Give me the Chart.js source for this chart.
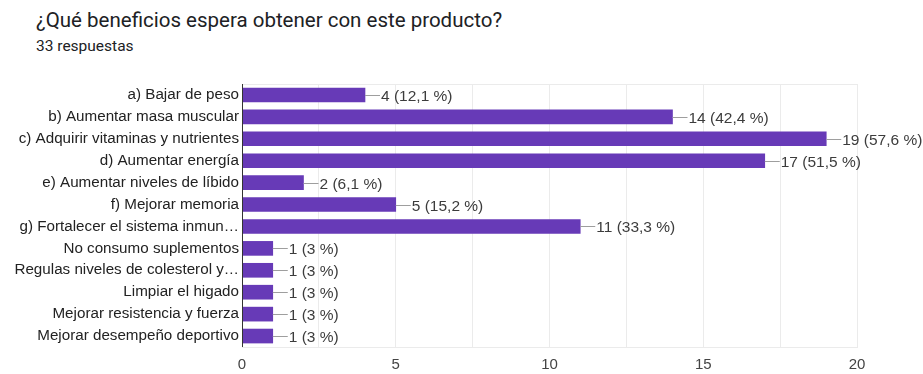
<!DOCTYPE html>
<html>
<head>
<meta charset="utf-8">
<script src="https://cdn.jsdelivr.net/npm/chart.js@4"></script>
<style>
  body { margin: 0; background: #fff; }
  #wrap { position: relative; width: 923px; height: 374px; }
  #title { position: absolute; left: 36px; top: 8px; font: 20.5px Roboto, sans-serif; color: #202124; white-space: nowrap; }
  #count { position: absolute; left: 36px; top: 37px; font: 15.5px Roboto, sans-serif; color: #202124; }
  canvas { position: absolute; left: 0; top: 0; }
</style>
</head>
<body>
<div id="wrap">
  <div id="title">¿Qué beneficios espera obtener con este producto?</div>
  <div id="count">33 respuestas</div>
  <canvas id="benefits-chart" width="923" height="374"></canvas>
</div>
<script>
const TOTAL = 33;

const categories = [
  "a) Bajar de peso",
  "b) Aumentar masa muscular",
  "c) Adquirir vitaminas y nutrientes",
  "d) Aumentar energía",
  "e) Aumentar niveles de líbido",
  "f) Mejorar memoria",
  "g) Fortalecer el sistema inmun…",
  "No consumo suplementos",
  "Regulas niveles de colesterol y…",
  "Limpiar el higado",
  "Mejorar resistencia y fuerza",
  "Mejorar desempeño deportivo"
];

const counts = [4, 14, 19, 17, 2, 5, 11, 1, 1, 1, 1, 1];

const xTicks = [0, 5, 10, 15, 20];

const FONT = "'Liberation Sans', Arial, sans-serif";

const pct = (n) => {
  let s = (n / TOTAL * 100).toFixed(1).replace(".0", "");
  return s.replace(".", ",") + " %";
};

// leader line + "n (p %)" after each bar, and frame around the plot
const barLabels = {
  id: "barLabels",
  beforeDatasetsDraw(chart) {
    const { ctx, chartArea: a } = chart;
    ctx.save();
    ctx.strokeStyle = "#ebebeb";
    ctx.lineWidth = 1;
    ctx.strokeRect(a.left + 0.5, a.top + 0.5, a.right - a.left, a.bottom - a.top);
    ctx.restore();
  },
  afterDatasetsDraw(chart) {
    const { ctx, chartArea: a } = chart;
    const meta = chart.getDatasetMeta(0);
    ctx.save();
    ctx.font = "15.5px " + FONT;
    ctx.textBaseline = "middle";
    ctx.textAlign = "left";
    meta.data.forEach((bar, i) => {
      const x = bar.x, y = Math.round(bar.y) + 0.5;
      ctx.strokeStyle = "#9e9e9e";
      ctx.lineWidth = 1;
      ctx.beginPath();
      ctx.moveTo(x, y);
      ctx.lineTo(x + 15, y);
      ctx.stroke();
      ctx.fillStyle = "#3c3c3c";
      ctx.fillText(counts[i] + " (" + pct(counts[i]) + ")", x + 16, y + 1);
    });
    // left axis line
    ctx.strokeStyle = "#333";
    ctx.beginPath();
    ctx.moveTo(a.left + 0.5, a.top);
    ctx.lineTo(a.left + 0.5, a.bottom);
    ctx.stroke();
    ctx.restore();
  }
};

new Chart("benefits-chart", {
  type: "bar",
  data: {
    labels: categories,
    datasets: [{
      data: counts,
      backgroundColor: "#673ab7",
      barThickness: 14,
    }],
  },
  options: {
    indexAxis: "y",
    animation: false,
    responsive: false,
    layout: {
      padding: { left: 0, right: 66, top: 84, bottom: 0 }
    },
    scales: {
      x: {
        min: 0,
        max: 20,
        afterFit: (scale) => { scale.height = 27; },
        afterBuildTicks: (scale) => {
          const t = [];
          for (let v = 0; v <= 20; v += 2.5) t.push({ value: v });
          scale.ticks = t;
        },
        grid: { color: "#ebebeb", drawTicks: false },
        border: { display: false },
        ticks: {
          padding: 9,
          color: "#444",
          font: { family: FONT, size: 15 },
          callback: (v) => xTicks.includes(v) ? v : "",
          autoSkip: false,
          maxRotation: 0,
        },
      },
      y: {
        afterFit: (scale) => { scale.width = 242; },
        grid: { display: false, drawTicks: false },
        border: { display: false },
        ticks: {
          padding: 3,
          color: "#222",
          font: { family: FONT, size: 15.2 },
        },
      },
    },
    plugins: {
      legend: { display: false },
      tooltip: { enabled: false },
    },
  },
  plugins: [barLabels],
});
</script>
</body>
</html>
